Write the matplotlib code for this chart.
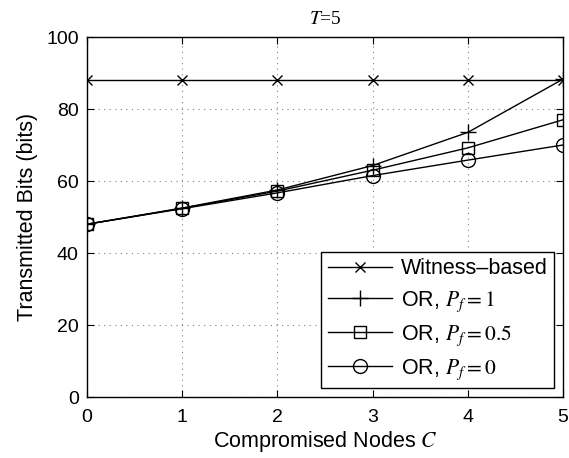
import matplotlib
matplotlib.use("Agg")
import matplotlib.pyplot as plt

plt.rcParams['font.family'] = ['Liberation Sans', 'DejaVu Sans']
plt.rcParams['mathtext.fontset'] = 'stix'

nodes = [0, 1, 2, 3, 4, 5]
witness = [88, 88, 88, 88, 88, 88]
or_pf1 = [48, 52.5, 57.5, 64.3, 73.5, 88.3]
or_pf05 = [48, 52.4, 57.2, 63.0, 69.2, 77.0]
or_pf0 = [48, 52.3, 56.7, 61.5, 65.8, 70.0]

fig = plt.figure(figsize=(5.69, 4.58), dpi=100)
ax = fig.add_axes([87/569, 61/458, 476/569, 360/458])

kw = dict(color='black', lw=1.0, mfc='none', mec='black')
ax.plot(nodes, witness, marker='x', ms=7, label='Witness\u2013based', **kw)
ax.plot(nodes, or_pf1, marker='+', ms=11, label='OR, $P_f = 1$', **kw)
ax.plot(nodes, or_pf05, marker='s', ms=8, label='OR, $P_f = 0.5$', **kw)
ax.plot(nodes, or_pf0, marker='o', ms=10, label='OR, $P_f = 0$', **kw)

ax.set_xlim(0, 5)
ax.set_ylim(0, 100)
ax.set_xticks(range(6))
ax.set_yticks(range(0, 101, 20))
ax.grid(True, linestyle=(0, (1, 4)), color='gray', lw=0.8)
ax.tick_params(direction='in', top=True, right=True, labelsize=14, length=5)
ax.tick_params(axis='x', pad=9)
ax.tick_params(axis='y', pad=6)
for s in ax.spines.values():
    s.set_linewidth(1.0)

ax.set_xlabel('Compromised Nodes $C$', fontsize=15.5, labelpad=2)
ax.set_ylabel('Transmitted Bits (bits)', fontsize=15.5, labelpad=6)
ax.set_title('$T$=5', fontsize=14, family='Liberation Serif', pad=9)

leg = ax.legend(loc='lower right', fontsize=15.5, handlelength=3.0, frameon=True,
                fancybox=False, edgecolor='black', framealpha=1,
                borderaxespad=0.4, labelspacing=0.45, handletextpad=0.4, borderpad=0.3)
leg.get_frame().set_linewidth(1.0)

fig.savefig('out.png', dpi=100)
